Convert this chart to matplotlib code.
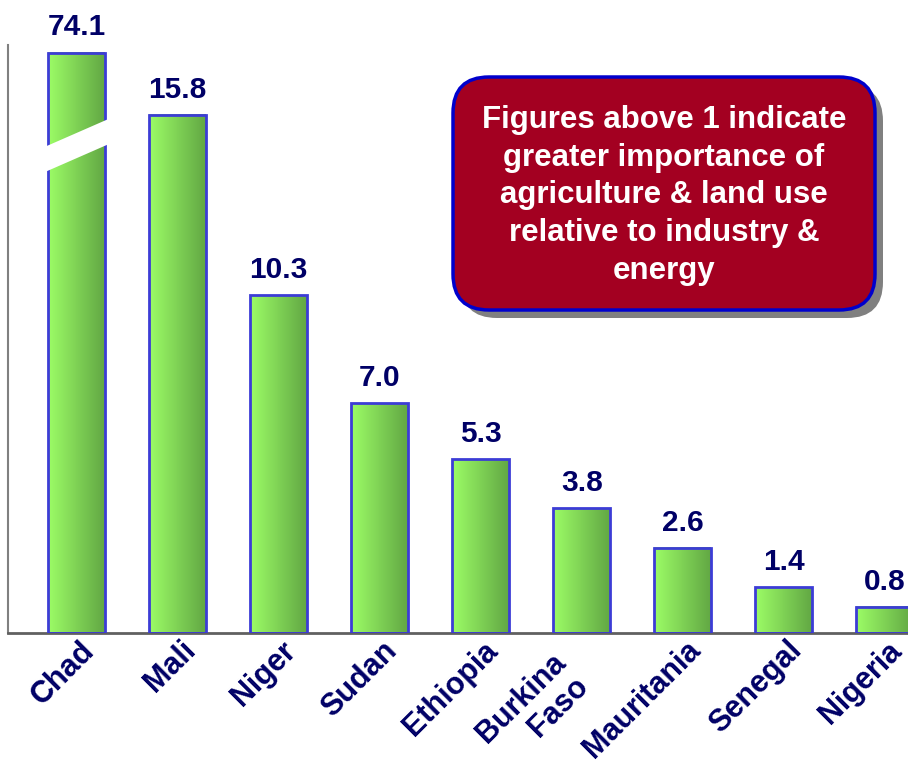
import numpy as np
import matplotlib
matplotlib.use('Agg')
import matplotlib.pyplot as plt
from matplotlib.patches import Rectangle, Polygon, FancyBboxPatch
from matplotlib import transforms
from matplotlib.colors import LinearSegmentedColormap

plt.rcParams['font.family'] = ['Liberation Sans', 'DejaVu Sans']

# ── data ──
countries = ['Chad', 'Mali', 'Niger', 'Sudan', 'Ethiopia', 'Burkina\nFaso',
             'Mauritania', 'Senegal', 'Nigeria']
ratios = [74.1, 15.8, 10.3, 7.0, 5.3, 3.8, 2.6, 1.4, 0.8]
note = ('Figures above 1 indicate\ngreater importance of\n'
        'agriculture & land use\nrelative to industry &\nenergy')

# Chad is far off the scale -> bar is cut at this height
cap = 17.7

NAVY = '#000066'
EDGE = '#3c3cd6'

fig = plt.figure(figsize=(9.08, 7.64), dpi=100)
ax = fig.add_axes([8 / 908, 131 / 764, 900 / 908, 588 / 764])

grad = LinearSegmentedColormap.from_list('grn', ['#9cfc66', '#62a844'])
gimg = np.linspace(0, 1, 64).reshape(1, -1)
w = 0.564
x = np.arange(len(countries))
shown = np.minimum(ratios, cap)

for xi, h, v in zip(x, shown, ratios):
    ax.imshow(gimg, cmap=grad, extent=[xi - w / 2, xi + w / 2, 0, h],
              aspect='auto', zorder=2, interpolation='bilinear')
    ax.add_patch(Rectangle((xi - w / 2, 0), w, h, fill=False, ec=EDGE,
                           lw=2, zorder=3))
    ax.annotate(f'{v:.1f}', (xi, h), xytext=(0, 8), textcoords='offset points',
                ha='center', va='bottom', fontsize=21.5, fontweight='bold',
                color=NAVY, annotation_clip=False)

# white slanted cut through the over-scale bar
brk_lo, brk_rise, brk_gap = 14.1, 0.76, 0.77
i = int(np.argmax(ratios))
s = brk_rise / w
x0, x1 = i - w / 2 - 0.04, i + w / 2 + 0.04
y0 = brk_lo - 0.04 * s
y1 = y0 + s * (x1 - x0)
ax.add_patch(Polygon([(x0, y0), (x1, y1), (x1, y1 + brk_gap), (x0, y0 + brk_gap)],
                     fc='white', ec='none', zorder=4))

ax.set_xlim(-0.68, 8.23)
ax.set_ylim(0, 17.93)
ax.set_yticks([])
ax.set_xticks(x)
ax.set_xticklabels(countries, rotation=45, ha='right', va='center',
                   rotation_mode='anchor', fontsize=22, fontweight='bold',
                   color=NAVY, linespacing=1.1)
ax.tick_params(axis='x', length=0, pad=0)
for lbl in ax.get_xticklabels():
    dx, dy = (13, -13)
    if '\n' in lbl.get_text():
        # two-line label sits further down-left in the original
        dx, dy = (-9, -37)
    shift = transforms.ScaledTranslation(dx / 100, dy / 100, fig.dpi_scale_trans)
    lbl.set_transform(lbl.get_transform() + shift)

for side in ['top', 'right']:
    ax.spines[side].set_visible(False)
ax.spines['left'].set_color('#808080')
ax.spines['left'].set_linewidth(1.5)
ax.spines['bottom'].set_color('#606060')
ax.spines['bottom'].set_linewidth(2)

# ── note box (inches) ──
bx, by, bw, bh = 4.53, 4.54, 4.22, 2.33
shadow = FancyBboxPatch((bx + 0.08, by - 0.08), bw, bh,
                        boxstyle='round,pad=0,rounding_size=0.36',
                        transform=fig.dpi_scale_trans, fc='#808080', ec='none')
box = FancyBboxPatch((bx, by), bw, bh, boxstyle='round,pad=0,rounding_size=0.36',
                     transform=fig.dpi_scale_trans, fc='#a30021', ec='#0000cc', lw=2.5)
fig.patches.extend([shadow, box])
fig.text(bx + bw / 2, by + bh / 2 - 0.02, note, transform=fig.dpi_scale_trans,
         ha='center', va='center', fontsize=22.5, fontweight='bold',
         color='white', linespacing=1.33)

fig.savefig('out.png', dpi=100)
